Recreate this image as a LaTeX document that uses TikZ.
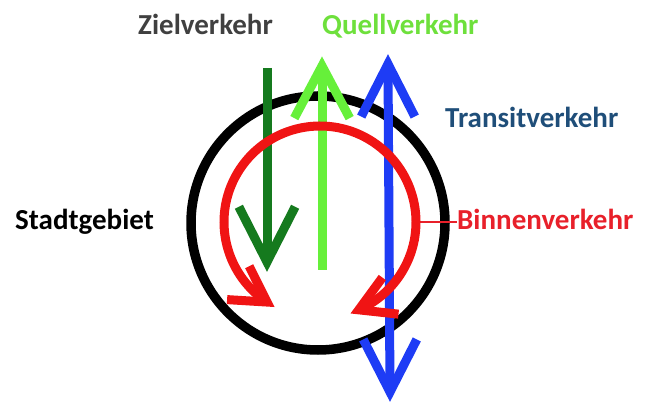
\documentclass[tikz,border=0pt]{standalone}
\usepackage{fontspec}
\setmainfont{Carlito}
\usetikzlibrary{calc}
\definecolor{zielgray}{HTML}{404040}
\definecolor{quelltext}{HTML}{6EE03C}
\definecolor{transtext}{HTML}{1F4E79}
\definecolor{binntext}{HTML}{E8202A}
\definecolor{dgreen}{HTML}{157A1E}
\definecolor{lgreen}{HTML}{66F03A}
\definecolor{tblue}{HTML}{1E3CF5}
\definecolor{rred}{HTML}{F01414}
\tikzset{
  lbl/.style={inner sep=0pt, anchor=base west, font=\fontsize{29}{32}\selectfont\bfseries},
  thick arrow/.style={line width=9pt, line cap=butt, line join=miter, miter limit=10},
}
\newcommand{\chev}[5]{% color, tip, direction, arm length, half angle
  \draw[thick arrow, #1] (#2) ++(#3+180-#5:#4) -- (#2) -- ++(#3+180+#5:#4);}
\begin{document}
\begin{tikzpicture}[x=1pt,y=-1pt]
\useasboundingbox (0,0) rectangle (648,403);
% city circle
\coordinate (c) at (318,223);
\draw[line width=9.5pt, black] (c) circle[radius=127];
% thin connector red
\coordinate (rc) at (320,222);
\coordinate (rr) at (416,222);
\node[lbl, text=binntext] (binn) at (457,230) {Binnenverkehr};
\draw[binntext, line width=2pt] (rr) -- (binn.west |- rr);
% Zielverkehr arrow (dark green)
\coordinate (zs) at (267,68);
\coordinate (zt) at (267,262);
\draw[thick arrow, dgreen] (zs) -- (zt);
\chev{dgreen}{zt}{90}{62}{27}
% Quellverkehr arrow (light green)
\coordinate (qs) at (322,270);
\coordinate (qt) at (322,66);
\draw[thick arrow, lgreen] (qs) -- (qt);
\chev{lgreen}{qt}{270}{59}{28}
% Transitverkehr arrow (blue, double)
\coordinate (tt) at (388,64);
\coordinate (tb) at (390,392);
\draw[thick arrow, tblue] (tt) -- (tb);
\chev{tblue}{tt}{270}{59}{27}
\chev{tblue}{tb}{90}{59}{27}
% Binnenverkehr arc (red, double)
\coordinate (rl) at ($(rc)+(123.5:96)$);
\coordinate (rt) at ($(rc)+(66.2:96)$);
\draw[line width=9pt, rred] (rl) arc[start angle=123.5, end angle=426.2, radius=96];
\chev{rred}{rl}{33.5}{40}{30}
\chev{rred}{rt}{156.2}{40}{30}
% labels
\node[lbl, text=zielgray] (ziel) at (138,35) {Zielverkehr};
\node[lbl, text=quelltext] (quell) at (322,35) {Quellverkehr};
\node[lbl, text=transtext] (trans) at (445,128) {Transitverkehr};
\node[lbl, text=black] (stadt) at (15,230) {Stadtgebiet};
\end{tikzpicture}
\end{document}
